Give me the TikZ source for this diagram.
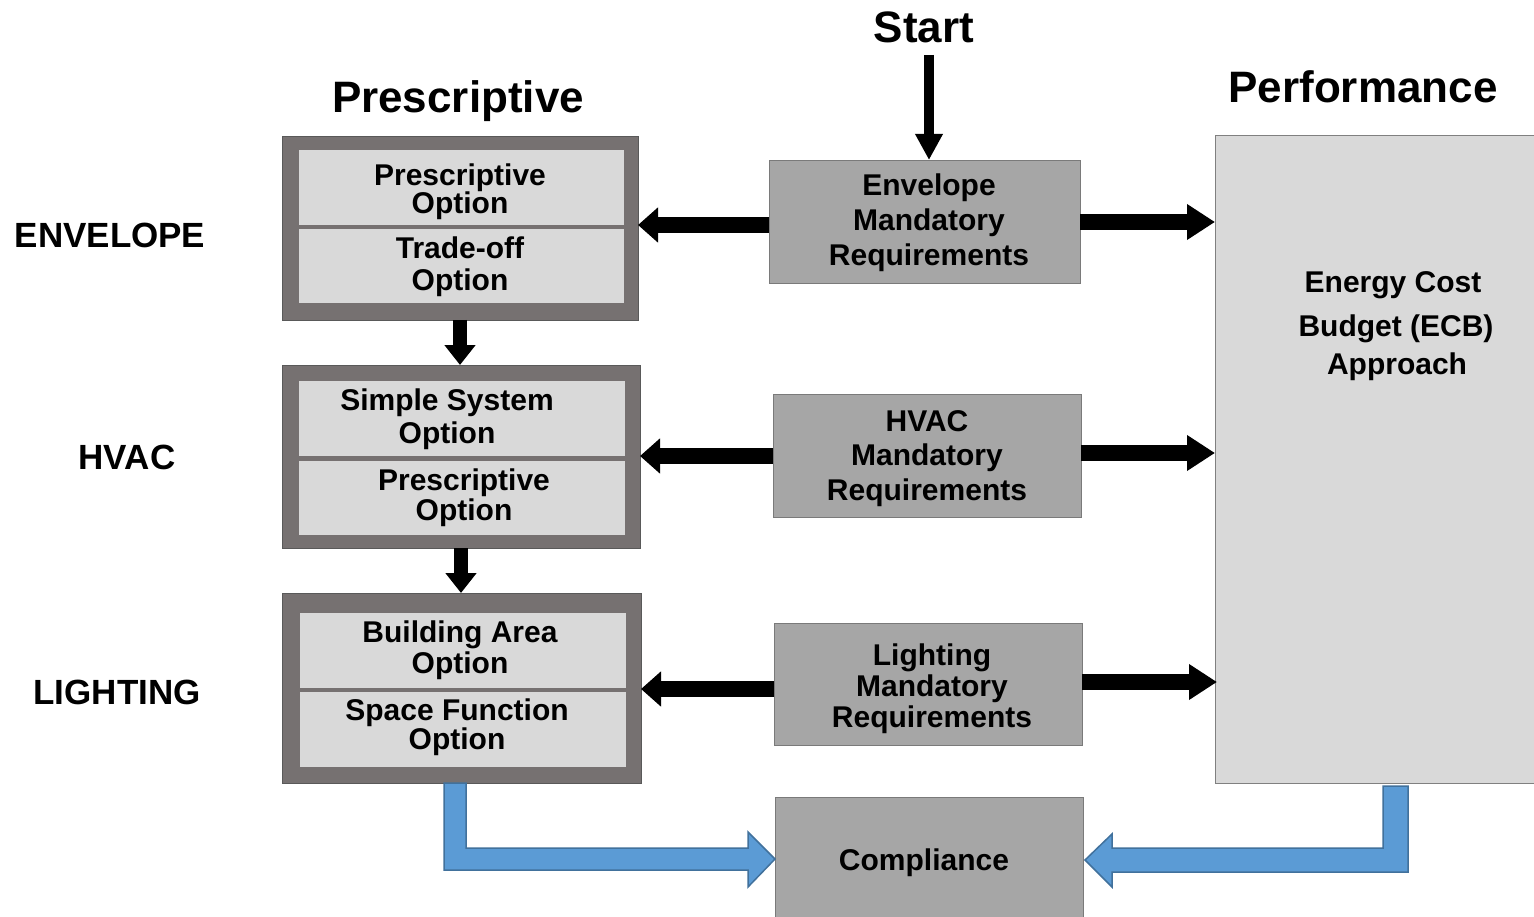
\documentclass[tikz,border=0pt]{standalone}
\usepackage{fontspec}
\setmainfont{Liberation Sans}
\usetikzlibrary{arrows.meta,calc}
\definecolor{darkg}{HTML}{767171}
\definecolor{lightg}{HTML}{D9D9D9}
\definecolor{midg}{HTML}{A6A6A6}
\definecolor{edgeg}{HTML}{595959}
\definecolor{bluef}{HTML}{5B9BD5}
\definecolor{blued}{HTML}{41719C}
\tikzset{
  outerbox/.style={draw=edgeg, line width=0.8pt, fill=darkg, inner sep=0pt, outer sep=0pt},
  innerbox/.style={fill=lightg, inner sep=0pt, outer sep=0pt},
  mandbox/.style={draw=edgeg!80, line width=0.8pt, fill=midg, inner sep=0pt, outer sep=0pt},
  perfbox/.style={draw=gray, line width=0.8pt, fill=lightg, inner sep=0pt, outer sep=0pt},
  txt/.style={font=\bfseries\fontsize{30}{#1}\selectfont, align=center, inner sep=0pt, yshift=-3pt},
  title/.style={font=\bfseries\fontsize{44}{48}\selectfont, inner sep=0pt},
  rowlab/.style={font=\bfseries\fontsize{35}{40}\selectfont, inner sep=0pt, yshift=-2pt},
  harrow/.style={draw=black, line width=16pt, -{Triangle[length=#1, width=34pt]}},
  varrow/.style={draw=black, line width=14pt, -{Triangle[length=20pt, width=30pt]}},
  bluearrow/.style={fill=bluef, draw=blued, line width=1.5pt, line join=miter}
}
\begin{document}
\begin{tikzpicture}[x=1pt,y=-1pt]
\useasboundingbox (0,0) rectangle (1534,917);
\fill[white] (0,0) rectangle (1534,917);

% titles
\node[title] (start) at (924,27) {Start};
\node[title] (ptitle) at (458,101) {Prescriptive};
\node[title] (perftitle) at (1363,87) {Performance};

% row labels
\node[rowlab] (lenv) at (110,233) {ENVELOPE};
\node[rowlab] (lhvac) at (127,455) {HVAC};
\node[rowlab] (llight) at (117,690) {LIGHTING};

% prescriptive boxes
\node[outerbox, minimum width=356pt, minimum height=184pt] (envO) at (460,228) {};
\node[innerbox, minimum width=325pt, minimum height=75pt] (envA) at (461.5,187.5) {};
\node[innerbox, minimum width=325pt, minimum height=74pt] (envB) at (461.5,266) {};
\node[txt=28pt] (envAt) at (460,189) {Prescriptive\\Option};
\node[txt=32pt] (envBt) at (460,264) {Trade-off\\Option};

\node[outerbox, minimum width=358pt, minimum height=183pt] (hvO) at (461,456.5) {};
\node[innerbox, minimum width=326pt, minimum height=75pt] (hvA) at (462,418.5) {};
\node[innerbox, minimum width=326pt, minimum height=74pt] (hvB) at (462,498) {};
\node[txt=33pt] (hvAt) at (447,416.5) {Simple System\\Option};
\node[txt=30pt] (hvBt) at (464,495) {Prescriptive\\Option};

\node[outerbox, minimum width=359pt, minimum height=190pt] (liO) at (461.5,688) {};
\node[innerbox, minimum width=326pt, minimum height=75pt] (liA) at (463,650.5) {};
\node[innerbox, minimum width=326pt, minimum height=75pt] (liB) at (463,729.5) {};
\node[txt=31pt] (liAt) at (460,647.5) {Building Area\\Option};
\node[txt=24pt] (liBt) at (457,724) {Space Function\\Option};

% mandatory boxes
\node[mandbox, minimum width=311pt, minimum height=123pt] (envM) at (924.5,221.5) {};
\node[txt=35pt] (envMt) at (929,220) {Envelope\\Mandatory\\Requirements};
\node[mandbox, minimum width=308pt, minimum height=123pt] (hvM) at (927,455.5) {};
\node[txt=34.5pt] (hvMt) at (927,455.5) {HVAC\\Mandatory\\Requirements};
\node[mandbox, minimum width=308pt, minimum height=122pt] (liM) at (928,684) {};
\node[txt=31pt] (liMt) at (932,686) {Lighting\\Mandatory\\Requirements};

% compliance
\node[mandbox, minimum width=308pt, minimum height=122pt] (comp) at (929,858) {};
\node[txt=34pt] (compt) at (924,860) {Compliance};

% performance
\node[perfbox, minimum width=325pt, minimum height=648pt] (perf) at (1377.5,459) {};
\node[txt=30pt] (perft1) at (1393,282) {Energy Cost};
\node[txt=30pt] (perft2) at (1396,326) {Budget (ECB)};
\node[txt=30pt] (perft3) at (1397,364) {Approach};

% start arrow
\draw[draw=black, line width=10pt, -{Triangle[length=26pt, width=26pt]}] (929,55) -- (929,160);

% horizontal black arrows
\draw[harrow=20pt] (envM.west |- 0,225) -- (envO.east |- 0,225);
\draw[harrow=28pt] (envM.east |- 0,222) -- (perf.west |- 0,222);
\draw[harrow=20pt] (hvM.west |- 0,456) -- (hvO.east |- 0,456);
\draw[harrow=28pt] (hvM.east |- 0,453) -- (perf.west |- 0,453);
\draw[harrow=20pt] (liM.west |- 0,689) -- (liO.east |- 0,689);
\draw[harrow=28pt] (liM.east |- 0,682) -- ([xshift=2pt]perf.west |- 0,682);

% vertical black arrows
\draw[varrow] (envO.south -| 460,0) -- (hvO.north -| 460,0);
\draw[varrow] (hvO.south -| 461,0) -- (liO.north -| 461,0);

% blue bent arrows
\draw[bluearrow] (444,783) -- (466,783) -- (466,848) -- (748,848) -- (748,832)
  -- (comp.west |- 0,859) -- (748,887) -- (748,870) -- (444,870) -- cycle;
\draw[bluearrow] (1383,786) -- (1408,786) -- (1408,872) -- (1112,872) -- (1112,887)
  -- ([xshift=2pt]comp.east |- 0,860) -- (1112,834) -- (1112,848) -- (1383,848) -- cycle;
\end{tikzpicture}
\end{document}
